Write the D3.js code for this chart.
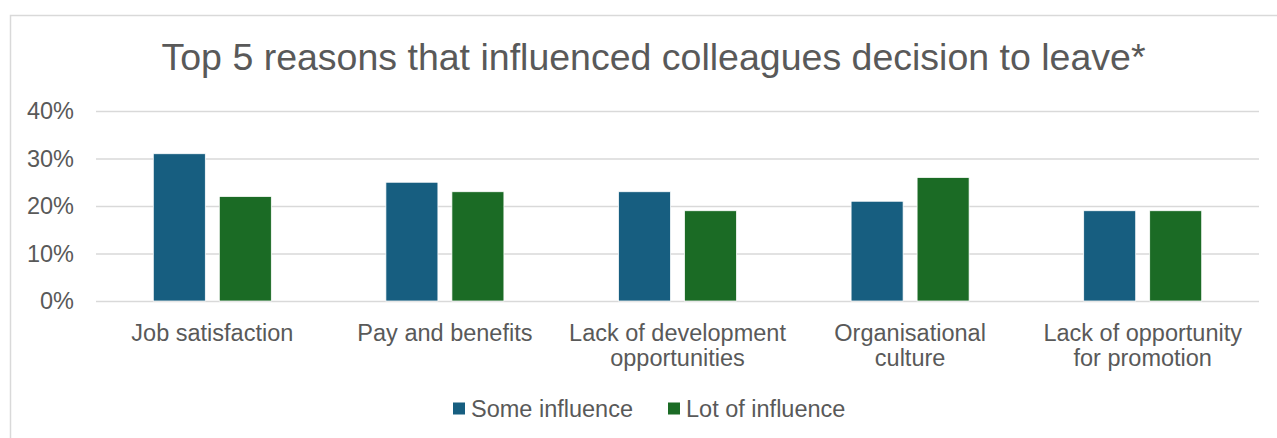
<!DOCTYPE html>
<html>
<head>
<meta charset="utf-8">
<script src="https://cdn.jsdelivr.net/npm/d3@7"></script>
<style>
  html, body { margin: 0; padding: 0; background: #ffffff; }
  svg { display: block; }
  text { font-family: "Liberation Sans", Arial, sans-serif; fill: #595959; }
</style>
</head>
<body>
<svg id="chart" width="1277" height="438"></svg>
<script>
// Survey results: share of leavers citing each reason
const categories = [
  "Job satisfaction",
  "Pay and benefits",
  "Lack of development opportunities",
  "Organisational culture",
  "Lack of opportunity for promotion"
];
const categoryLines = [
  ["Job satisfaction"],
  ["Pay and benefits"],
  ["Lack of development", "opportunities"],
  ["Organisational", "culture"],
  ["Lack of opportunity", "for promotion"]
];
const seriesNames = ["Some influence", "Lot of influence"];
const someInfluence = [0.31, 0.25, 0.23, 0.21, 0.19];
const lotOfInfluence = [0.22, 0.23, 0.19, 0.26, 0.19];
const yTicks = [0, 0.1, 0.2, 0.3, 0.4];
const titleText = "Top 5 reasons that influenced colleagues decision to leave*";

const colors = { "Some influence": "#175e80", "Lot of influence": "#1b6b25" };
const seriesValues = { "Some influence": someInfluence, "Lot of influence": lotOfInfluence };

const svg = d3.select("#chart");
const plot = { left: 96, right: 1259, top: 111, bottom: 301 };
const fontSize = 23.5;

// Outer chart frame
svg.append("rect")
  .attr("x", 10.5).attr("y", 15.5)
  .attr("width", 1287).attr("height", 440)
  .attr("fill", "#ffffff")
  .attr("stroke", "#d9d9d9")
  .attr("stroke-width", 1.5);

// Title
svg.append("text")
  .attr("x", 653.5).attr("y", 70)
  .attr("text-anchor", "middle")
  .style("font-size", "37.5px")
  .text(titleText);

const y = d3.scaleLinear().domain([0, 0.4]).range([plot.bottom, plot.top]);
const x0 = d3.scaleBand().domain(categories).range([plot.left, plot.right]).padding(0);
const x1 = d3.scaleBand().domain(seriesNames).range([0, x0.bandwidth()])
  .paddingInner(0.212).paddingOuter(0.868);

// Value axis with gridlines
const yAxis = svg.append("g")
  .attr("transform", `translate(${plot.left},0)`)
  .call(d3.axisLeft(y)
    .tickValues(yTicks)
    .tickFormat(d3.format(".0%"))
    .tickSize(-(plot.right - plot.left))
    .tickPadding(22));
yAxis.select(".domain").remove();
yAxis.selectAll(".tick line").attr("stroke", "#d9d9d9").attr("stroke-width", 1.5);
yAxis.selectAll(".tick text")
  .style("font-size", fontSize + "px")
  .style("font-family", "'Liberation Sans', Arial, sans-serif")
  .attr("fill", "#595959");

// Bars
const rows = categories.map((c, i) => ({
  category: c,
  values: seriesNames.map(s => ({ series: s, value: seriesValues[s][i] }))
}));

const groups = svg.append("g").selectAll("g")
  .data(rows)
  .join("g")
  .attr("transform", d => `translate(${x0(d.category)},0)`);

groups.selectAll("rect")
  .data(d => d.values)
  .join("rect")
  .attr("x", d => x1(d.series))
  .attr("width", x1.bandwidth())
  .attr("y", d => y(d.value))
  .attr("height", d => y(0) - y(d.value))
  .attr("fill", d => colors[d.series])
  .attr("stroke", "#ffffff")
  .attr("stroke-width", 0.75);

// Category axis
const xAxis = svg.append("g")
  .attr("transform", `translate(0,${plot.bottom})`)
  .call(d3.axisBottom(x0).tickSize(0).tickFormat(""));
xAxis.select(".domain").remove();
xAxis.selectAll(".tick").each(function(d, i) {
  const t = d3.select(this).append("text")
    .attr("text-anchor", "middle")
    .attr("fill", "#595959")
    .style("font-size", fontSize + "px")
    .style("font-family", "'Liberation Sans', Arial, sans-serif");
  categoryLines[i].forEach((line, k) => {
    t.append("tspan").attr("x", 0).attr("y", 40 + k * 24.5).text(line);
  });
});

// Legend
const legendItems = [
  { name: seriesNames[0], x: 453 },
  { name: seriesNames[1], x: 668 }
];
const legend = svg.append("g");
legendItems.forEach(item => {
  legend.append("rect")
    .attr("x", item.x).attr("y", 402.5)
    .attr("width", 12).attr("height", 12)
    .attr("fill", colors[item.name]);
  legend.append("text")
    .attr("x", item.x + 18).attr("y", 416.5)
    .style("font-size", fontSize + "px")
    .text(item.name);
});
</script>
</body>
</html>
